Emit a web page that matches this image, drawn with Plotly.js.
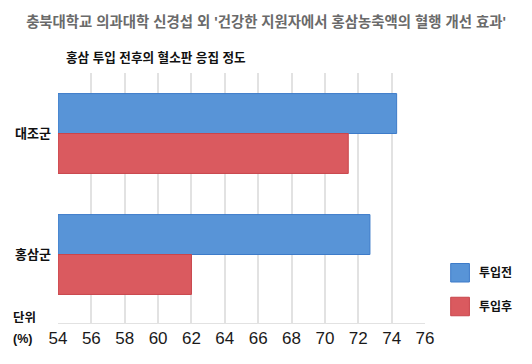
<!DOCTYPE html>
<html>
<head>
<meta charset="utf-8">
<script src="https://cdn.plot.ly/plotly-3.0.1.min.js"></script>
<style>html,body{margin:0;padding:0;background:#fff;}#chart{width:532px;height:364px;}</style>
</head>
<body>
<div id="chart"></div>
<script>
// ---- data ----
const categories = ['대조군', '홍삼군'];
const seriesNames = ['투입전', '투입후'];
const beforeValues = [74.3, 72.7];
const afterValues = [71.4, 62.0];
const xTicks = [54, 56, 58, 60, 62, 64, 66, 68, 70, 72, 74, 76];
const titleText = "충북대학교 의과대학 신경섭 외 '건강한 지원자에서 홍삼농축액의 혈행 개선 효과'";
const subtitleText = '홍삼 투입 전후의 혈소판 응집 정도';
const unitText = ['단위', '(%)'];

const fills = ['#5894d7', '#da5a5f'];
const edges = ['#3d7bc9', '#c8454b'];
const FONT = 'Liberation Sans, Arial, "Noto Sans CJK KR", sans-serif';

const traces = [beforeValues, afterValues].map((vals, i) => ({
  type: 'bar',
  orientation: 'h',
  name: seriesNames[i],
  y: categories,
  x: vals.map(v => v - xTicks[0]),
  base: xTicks[0],
  marker: {color: fills[i], line: {color: edges[i], width: 1}},
  showlegend: false,
  hoverinfo: 'x+y'
}));

// custom legend (paper coords)
const legendShapes = [];
const legendAnn = [];
const legY = [0.201, 0.066];
seriesNames.forEach((n, i) => {
  legendShapes.push({type: 'rect', xref: 'paper', yref: 'paper',
    x0: 1.070, x1: 1.121, y0: legY[i] - 0.037, y1: legY[i] + 0.037,
    fillcolor: fills[i], line: {color: edges[i], width: 1}});
  legendAnn.push({xref: 'paper', yref: 'paper', x: 1.141, y: legY[i], xanchor: 'left', yanchor: 'middle',
    text: n, showarrow: false, font: {family: FONT, size: 12, color: '#111', weight: 'bold'}});
});

const layout = {
  width: 532, height: 364,
  margin: {l: 58, r: 107, t: 73, b: 41},
  paper_bgcolor: '#fff', plot_bgcolor: '#fff',
  font: {family: FONT, color: '#111'},
  title: {text: titleText, xref: 'container', yref: 'container', x: 0.5, y: 1 - 22/364,
    xanchor: 'center', yanchor: 'middle',
    font: {family: FONT, size: 14.4, color: '#6a6a6a', weight: 'bold'}},
  barmode: 'group', bargap: 0.34, bargroupgap: 0,
  xaxis: {range: [xTicks[0], xTicks[xTicks.length - 1]], tickvals: xTicks, ticktext: xTicks.map(String),
    showgrid: true, gridcolor: '#e2e2e2', gridwidth: 2, zeroline: false,
    showline: true, linecolor: '#e2e2e2', linewidth: 1, ticks: '',
    tickfont: {family: FONT, size: 17, color: '#1a1a1a'}},
  yaxis: {type: 'category', range: [1.566, -0.5], showgrid: false, zeroline: false, showline: false,
    ticks: '', ticklabelstandoff: 6,
    tickfont: {family: FONT, size: 13, color: '#111', weight: 'bold'}},
  shapes: legendShapes,
  annotations: [
    {xref: 'paper', yref: 'paper', x: 0.016, y: (323 - 58) / 250, xanchor: 'left', yanchor: 'middle',
      text: subtitleText, showarrow: false, font: {family: FONT, size: 12.6, color: '#111', weight: 'bold'}},
    {xref: 'paper', yref: 'paper', x: -0.128, y: (323 - 318) / 250, xanchor: 'left', yanchor: 'middle',
      text: unitText[0], showarrow: false, font: {family: FONT, size: 12.5, color: '#111', weight: 'bold'}},
    {xref: 'paper', yref: 'paper', x: -0.128, y: (323 - 339) / 250, xanchor: 'left', yanchor: 'middle',
      text: unitText[1], showarrow: false, font: {family: FONT, size: 12.5, color: '#111', weight: 'bold'}}
  ].concat(legendAnn)
};

Plotly.newPlot('chart', traces, layout, {displayModeBar: false, staticPlot: true});
</script>
</body>
</html>
